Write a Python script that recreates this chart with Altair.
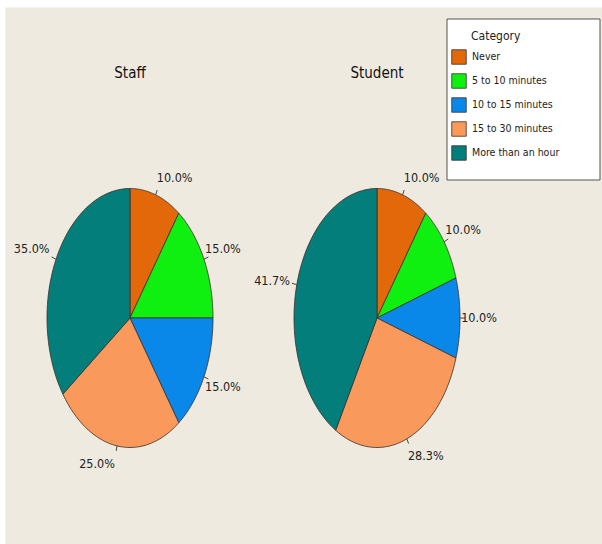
import altair as alt
import pandas as pd

groups = ["Staff", "Student"]
categories = ["Never", "5 to 10 minutes", "10 to 15 minutes", "15 to 30 minutes", "More than an hour"]
staff_pct = [10.0, 15.0, 15.0, 25.0, 35.0]
student_pct = [10.0, 10.0, 10.0, 28.3, 41.7]
colors = ["#E3680A", "#10F010", "#0A88EA", "#F99A5C", "#047E7A"]

rows = []
for g, vals in zip(groups, [staff_pct, student_pct]):
    for i, (c, v) in enumerate(zip(categories, vals)):
        rows.append({"group": g, "category": c, "value": v, "idx": i})
df = pd.DataFrame(rows)

FONT = "DejaVu Sans Condensed"
W, H = 597, 537
RX, RY = 83, 129.5
CX_STAFF, CX_STUDENT = 125, 372
CY = 311
N = 60

xs = alt.Scale(domain=[0, W], range=[0, W], nice=False, zero=False)
ys = alt.Scale(domain=[0, H], range=[0, H], nice=False, zero=False)
cx_expr = f"datum.group == 'Staff' ? {CX_STAFF} : {CX_STUDENT}"

base = (
    alt.Chart(df)
    .transform_joinaggregate(total="sum(value)", groupby=["group"])
    .transform_window(cum="sum(value)", groupby=["group"], sort=[alt.SortField("idx")], frame=[None, 0])
    .transform_calculate(cx=cx_expr)
    .transform_calculate(a0="2*PI*(datum.cum - datum.value)/datum.total")
    .transform_calculate(a1="2*PI*datum.cum/datum.total")
)

pie = (
    base.transform_calculate(steps=f"sequence(0, {N + 3})")
    .transform_flatten(["steps"], as_=["k"])
    .transform_calculate(t=f"datum.a0 + clamp(datum.k - 1, 0, {N})/{N}*(datum.a1 - datum.a0)")
    .transform_calculate(inner=f"datum.k == 0 || datum.k == {N + 2}")
    .transform_calculate(px=f"datum.inner ? datum.cx : datum.cx + {RX}*sin(datum.t)")
    .transform_calculate(py=f"datum.inner ? {CY} : {CY} - {RY}*cos(datum.t)")
    .transform_calculate(key="datum.group + '|' + datum.category")
    .mark_line(stroke="#3a2e28", strokeWidth=0.8, strokeJoin="round")
    .encode(
        x=alt.X("px:Q", scale=xs, axis=None),
        y=alt.Y("py:Q", scale=ys, axis=None),
        fill=alt.Fill(
            "category:N",
            scale=alt.Scale(domain=categories, range=colors),
            sort=categories,
            legend=alt.Legend(
                title=None, orient="none", legendX=446, legendY=42,
                symbolType="square", symbolSize=210, symbolStrokeColor="#3a2e28",
                symbolStrokeWidth=0.8, symbolOpacity=1,
                labelFont=FONT, labelFontSize=10.5, labelColor="#222",
                rowPadding=6, labelOffset=5, padding=0,
            ),
        ),
        detail="key:N",
        order="k:Q",
    )
)

lab = (
    base.transform_calculate(m="(datum.a0 + datum.a1)/2")
    .transform_calculate(ex=f"datum.cx + {RX}*sin(datum.m)")
    .transform_calculate(ey=f"{CY} - {RY}*cos(datum.m)")
    .transform_calculate(tx="datum.ex + 5*sin(datum.m)")
    .transform_calculate(ty="datum.ey - 5*cos(datum.m)")
    .transform_calculate(lx="datum.ex + 19*(sin(datum.m) >= 0 ? 1 : -1) + 6*min(0, sin(datum.m))")
    .transform_calculate(ly="datum.ey - 14*cos(datum.m) - (abs(cos(datum.m)) > 0.3 ? 4*(cos(datum.m) > 0 ? 1 : -1) : 0)")
    .transform_calculate(label="format(datum.value/datum.total*100, '.1f') + '%'")
)

ticks = lab.mark_rule(color="#444", strokeWidth=1).encode(
    x=alt.X("ex:Q", scale=xs, axis=None),
    y=alt.Y("ey:Q", scale=ys, axis=None),
    x2="tx:Q",
    y2="ty:Q",
)
texts = lab.mark_text(font=FONT, fontSize=12.5, color="#222").encode(
    x=alt.X("lx:Q", scale=xs, axis=None),
    y=alt.Y("ly:Q", scale=ys, axis=None),
    text="label:N",
)

tdf = pd.DataFrame({"group": groups})
titles = (
    alt.Chart(tdf)
    .transform_calculate(cx=cx_expr)
    .mark_text(font=FONT, fontSize=15, color="#111")
    .encode(x=alt.X("cx:Q", scale=xs, axis=None), y=alt.value(66), text="group:N")
)

one = pd.DataFrame({"a": [0]})
box = alt.Chart(one).mark_rect(fill="white", stroke="#555", strokeWidth=1).encode(
    x=alt.value(442), x2=alt.value(595), y=alt.value(12), y2=alt.value(173)
)
cat_title = alt.Chart(one).mark_text(font=FONT, fontSize=12, color="#222", align="left").encode(
    x=alt.value(466), y=alt.value(29), text=alt.value("Category")
)

chart = (
    alt.layer(box, pie, ticks, texts, titles, cat_title)
    .properties(
        width=W, height=H,
        padding={"left": 5, "top": 7, "right": 0, "bottom": 0},
        autosize=alt.AutoSizeParams(type="none"),
        background="white",
    )
    .configure_view(fill="#EEEAE0", stroke="transparent")
)

chart.save("out.html", embed_options={"renderer": "svg", "actions": False})
